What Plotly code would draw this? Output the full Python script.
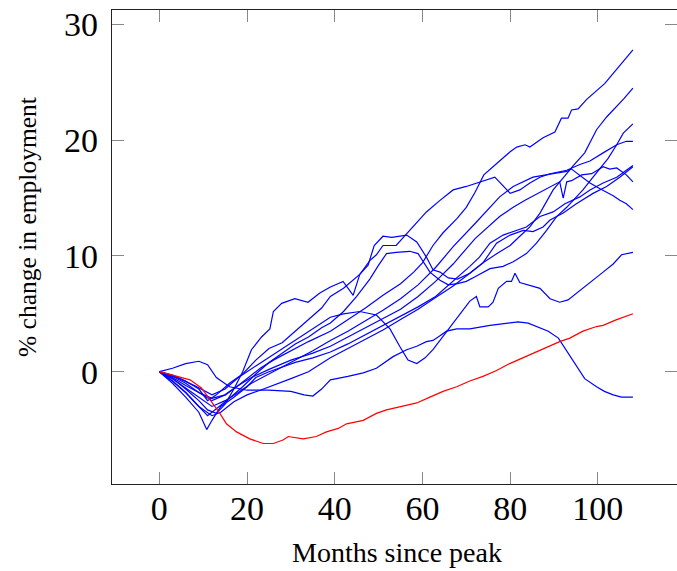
import plotly.graph_objects as go

# ---- data (months since peak, % change in employment) ----
red_m = [0, 3.1, 7, 9.6, 11.9, 13.8, 15.3, 17.6, 20.6, 23.7, 26, 28.2, 29.4, 32.8, 35.8, 38.1, 40.8,
         42.7, 46.5, 49.5, 51.8, 55.6, 58.7, 61.7, 64.7, 67.8, 70.8, 73.8, 76.9, 79.9, 83, 86, 89.1,
         91.3, 93.6, 96.6, 99.7, 101.2, 104.3, 108]
red_v = [0, -0.3, -0.7, -1.4, -2.6, -3.6, -4.5, -5.2, -5.8, -6.2, -6.2, -5.9, -5.6, -5.8, -5.6, -5.2, -4.9,
         -4.5, -4.2, -3.6, -3.3, -3.0, -2.7, -2.2, -1.7, -1.3, -0.8, -0.4, 0.1, 0.7, 1.2, 1.7, 2.2,
         2.6, 2.9, 3.5, 3.9, 4.0, 4.5, 5.0]

s1_m = [0, 3, 6, 9, 12, 15, 18, 20, 23, 26, 30, 34, 39, 43, 47, 51, 55, 58, 60, 62.4, 64.7, 67.8, 70, 72,
        74, 77, 80, 81.5, 83.4, 84.5, 87.5, 90.2, 91.7, 93.2, 94, 95.5, 97.4, 101.6, 105.8, 108]
s1_v = [0, -0.5, -1.2, -1.8, -2.3, -2.0, -1.2, -0.6, 0.3, 1.0, 1.8, 2.6, 3.5, 4.5, 5.5, 6.6, 7.6, 8.6, 9.4, 10.9,
        12.0, 13.2, 14.2, 15.5, 17.0, 18.0, 19.0, 19.4, 19.6, 19.4, 20.2, 20.7, 21.9, 21.9, 22.6, 22.7, 23.5,
        24.9, 26.8, 27.8]

s2_m = [0, 3, 6, 9, 11, 13, 16, 19, 22, 25, 28, 31, 34, 37, 39, 42, 45.7, 47.6, 49, 51, 53, 56.4, 58.7,
        60.9, 62.4, 64, 65.9, 68, 70.8, 73.8, 77, 80, 82.2, 84.5, 86.8, 89.8, 92.9, 94.4, 97, 99.7, 102,
        104.3, 106, 108]
s2_v = [0, -0.3, -0.8, -1.5, -2.5, -2.0, -1.0, -0.2, 1.0, 2.0, 2.5, 3.5, 4.5, 5.5, 6.5, 7.2, 8.4, 9.2, 10.9,
        11.7, 11.6, 11.8, 11.2, 9.9, 8.8, 8.6, 8.1, 8.0, 8.5, 9.4, 10.2, 10.9, 11.7, 12.5, 13.7, 15.7, 17.1,
        17.8, 18.9, 20.9, 22.0, 22.9, 23.6, 24.5]

s3_m = [0, 3, 6, 9, 11, 13, 16, 19, 22, 25, 28, 31, 34, 37, 39, 42, 45, 48, 50, 51.8, 54, 57.1, 59, 60.2,
        61.7, 64, 65.9, 68, 70, 72, 75.4, 78.4, 80.7, 83.7, 86, 88.3, 90.6, 92.9, 94.4, 96.6, 98.9, 100.8,
        102.3, 104.3, 105.8, 108]
s3_v = [0, -0.8, -1.8, -3.0, -3.8, -3.2, -2.3, -1.3, -0.2, 0.8, 1.6, 2.4, 3.0, 3.8, 4.2, 5.2, 6.5, 8.0, 9.2,
        10.2, 10.3, 10.4, 10.2, 9.5, 8.6, 7.9, 7.5, 7.6, 7.8, 8.2, 8.9, 9.1, 9.5, 10.2, 11.1, 12.2, 13.4, 14.2,
        14.8, 15.7, 16.8, 17.7, 18.4, 19.6, 20.6, 21.4]

s4_m = [0, 3, 6, 9, 11, 13, 15, 17, 19, 21, 23.3, 25.2, 26, 27.9, 30.9, 33.9, 36.6, 38.9, 41.9, 44.2, 45.7,
        48, 49.5, 51, 54, 57.1, 60.9, 64, 67, 70, 73.1, 76.5, 80, 82.2, 84.5, 86.8, 89.1, 92.9, 95.9, 98.2,
        101.2, 104.3, 106.5, 108]
s4_v = [0, -0.6, -1.5, -2.5, -3.3, -3.6, -2.8, -1.5, 0, 1.9, 3.0, 3.7, 5.2, 5.9, 6.3, 6.0, 6.8, 7.3, 7.8, 6.6,
        8.4, 9.6, 10.1, 10.9, 10.9, 12.2, 13.8, 14.8, 15.7, 16.0, 16.4, 16.8, 15.4, 15.7, 16.3, 16.8, 17.1,
        17.4, 17.9, 18.2, 18.9, 19.6, 19.9, 19.9]

p_m = [0, 3, 6, 9, 10.8, 12, 14, 17, 20, 22, 25, 28, 31, 35, 39, 43, 47, 51, 55, 59, 63, 67, 70.8, 73, 75.4,
       78.4, 81.5, 83.7, 86.8, 89.8, 92.5, 95.9, 98.2, 101.2, 104.3, 108]
p_v = [0, -1.0, -2.2, -3.5, -5.0, -4.2, -3.0, -2.2, -1.3, -0.5, 0, 0.4, 0.8, 1.2, 1.7, 2.4, 3.2, 4.0, 4.8, 5.6,
       6.5, 7.8, 9.1, 9.9, 11.1, 11.8, 12.2, 12.5, 13.4, 13.8, 14.5, 15.1, 15.7, 16.3, 16.8, 17.8]

q_m = [0, 3, 6, 9, 12, 14, 17, 20, 23, 26, 30, 34, 39, 43, 47, 51, 55, 59, 63, 67, 70.8, 73.8, 76.9, 80, 83,
       85.2, 87.5, 89.1, 92.1, 95.1, 98.9, 102, 105, 108]
q_v = [0, -0.8, -1.8, -3.0, -3.8, -3.5, -2.6, -2.0, -1.6, -1.2, -0.6, 0, 1.2, 2.0, 2.8, 3.6, 4.5, 5.4, 6.4, 7.4,
       8.5, 9.4, 11.1, 11.8, 12.2, 12.1, 12.5, 13.1, 13.7, 14.5, 15.4, 16.0, 16.8, 17.7]

s8_m = [0, 3, 6, 9, 12, 15, 18, 21, 25, 30, 35, 39, 43, 47, 51, 55, 59, 63, 67, 72, 77.6, 80.7, 83.4, 86.8,
        89.1, 91.3, 92.1, 92.9, 94, 96.3, 98.6, 101.2, 102.7, 104.3, 106.5, 108]
s8_v = [0, -0.4, -1.0, -1.8, -2.5, -2.0, -1.2, -0.5, 0.2, 1.0, 1.6, 2.2, 3.0, 3.8, 4.6, 5.4, 6.5, 7.8, 9.3, 11.5,
        13.4, 14.2, 14.8, 15.5, 16.0, 16.4, 15.0, 16.4, 16.5, 17.0, 17.1, 17.7, 17.5, 17.6, 17.0, 16.4]

s9_m = [0, 3, 6, 9, 12, 15, 18, 21, 25, 30, 35, 39, 43, 47, 51, 55, 59, 63, 67, 72, 77.6, 80.7, 85.2, 89.8,
        92.9, 94, 95.1, 98.2, 100.5, 103.5, 105, 106.5, 108]
s9_v = [0, -0.6, -1.4, -2.2, -3.0, -2.5, -1.8, -1.0, -0.2, 0.8, 1.8, 2.7, 3.5, 4.4, 5.3, 6.3, 7.5, 9.0, 10.8, 12.8,
        15.1, 16.0, 16.8, 17.1, 17.3, 17.5, 17.2, 16.3, 15.8, 15.2, 14.8, 14.5, 14.0]

s10_m = [0, 4, 8, 12, 15, 18, 22, 26, 30, 34, 39, 42, 45.7, 49.5, 52.6, 54.8, 56.7, 58.7, 60.6, 62.4, 64,
         66.2, 68.5, 70.8, 72.3, 73.1, 75, 76.1, 77.3, 79.2, 80.3, 81.1, 82.2, 86.8, 89.1, 91.3, 93.2, 97.4,
         101.2, 103.5, 105.4, 108]
s10_v = [0, -0.5, -1.2, -2.0, -1.5, -0.5, 0.5, 1.5, 2.5, 3.5, 4.7, 5.0, 5.2, 4.9, 3.7, 2.2, 1.0, 0.7, 1.2, 1.9,
         2.7, 3.9, 5.0, 6.1, 6.5, 5.6, 5.6, 6.0, 7.2, 7.8, 7.8, 8.5, 7.7, 7.2, 6.3, 6.0, 6.2, 7.5, 8.6, 9.3,
         10.1, 10.3]

s11_m = [0, 3, 6, 9, 11, 13, 16, 20, 25, 30, 33, 35, 37, 39, 43, 46.5, 49.5, 53.3, 56.4, 58.7, 60.9, 62.4,
         64, 65.5, 67.8, 70.8, 75.4, 79, 81.8, 84.1, 86, 88.7, 91, 93.6, 95.3, 97, 99.7, 101.5, 103.5, 105.4,
         108]
s11_v = [0, 0.3, 0.7, 0.9, 0.6, -0.5, -1.3, -1.6, -1.6, -1.7, -2.0, -2.1, -1.5, -0.7, -0.4, -0.1, 0.3, 1.3,
         1.9, 2.2, 2.6, 2.7, 3.1, 3.5, 3.7, 3.7, 4.0, 4.2, 4.3, 4.2, 3.9, 3.5, 2.9, 1.4, 0.4, -0.6, -1.3, -1.7,
         -2.0, -2.2, -2.2]

blue_series = [(s1_m, s1_v), (s2_m, s2_v), (s3_m, s3_v), (s4_m, s4_v), (p_m, p_v), (q_m, q_v),
               (s8_m, s8_v), (s9_m, s9_v), (s10_m, s10_v), (s11_m, s11_v)]

x_ticks = [0, 20, 40, 60, 80, 100]
y_ticks = [0, 10, 20, 30]
x_title = "Months since peak"
y_title = "% change in employment"

fig = go.Figure()
for m, v in blue_series:
    fig.add_trace(go.Scatter(x=m, y=v, mode="lines", line=dict(color="#0000ff", width=1.2),
                             showlegend=False, hoverinfo="skip"))
fig.add_trace(go.Scatter(x=red_m, y=red_v, mode="lines", line=dict(color="#ff0000", width=1.2),
                         showlegend=False, hoverinfo="skip"))

font_family = "Liberation Serif, Times New Roman, serif"
axis_common = dict(showgrid=False, zeroline=False, showline=True, linecolor="#222222", linewidth=1.2,
                   mirror="ticks", ticks="inside", ticklen=12, tickwidth=1, tickcolor="#888888",
                   automargin=False,
                   tickfont=dict(family=font_family, size=34, color="#000000"))

fig.update_layout(
    width=677, height=571,
    margin=dict(l=112, r=0, t=10, b=87, autoexpand=False),
    paper_bgcolor="white", plot_bgcolor="white",
    xaxis=dict(range=[-10.8, 118.05], tickvals=x_ticks, ticktext=[str(t) for t in x_ticks],
               ticklabelstandoff=-6, **axis_common),
    yaxis=dict(range=[-9.70, 31.24], tickvals=y_ticks, ticktext=[str(t) for t in y_ticks],
               ticklabelstandoff=6, **axis_common),
    annotations=[
        dict(text=x_title, xref="paper", yref="paper", x=0.5, y=0, yshift=-68, xshift=2,
             showarrow=False, xanchor="center", yanchor="middle",
             font=dict(family=font_family, size=28, color="#000")),
        dict(text=y_title, xref="paper", yref="paper", x=0, y=0.5, xshift=-85, yshift=20,
             showarrow=False, xanchor="center", yanchor="middle", textangle=-90,
             font=dict(family=font_family, size=25.5, color="#000")),
    ],
)

fig.write_html("out.html", config={"displayModeBar": False},
               post_script="document.body.style.margin='0px';")
